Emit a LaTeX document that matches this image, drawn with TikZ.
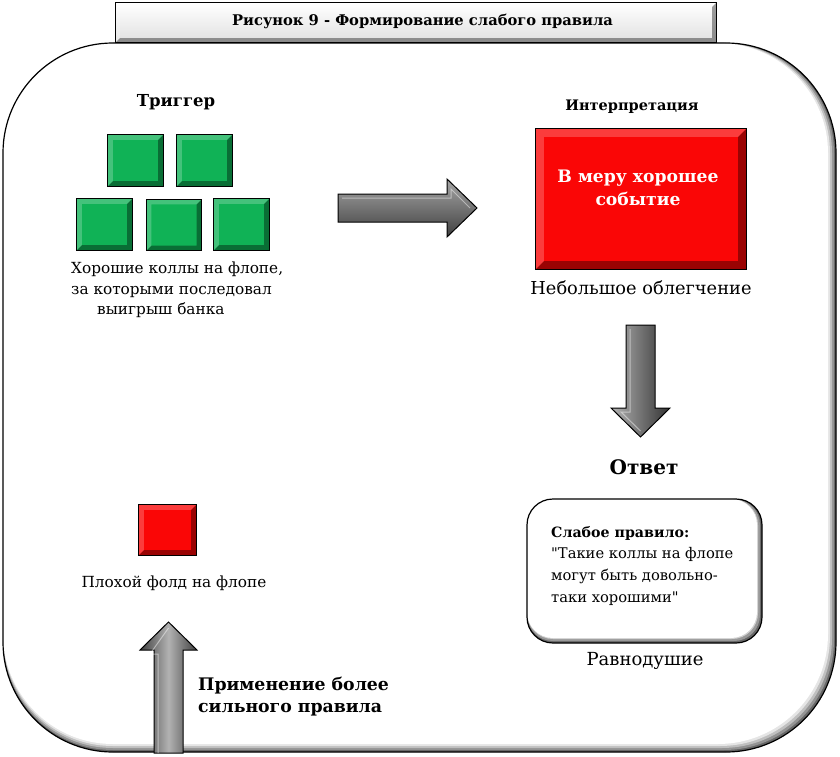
\documentclass[tikz,border=0pt]{standalone}
\usepackage{fontspec}
\setmainfont{DejaVu Serif}
\usepackage{tikz}

\definecolor{cardgreen}{RGB}{16,178,86}
\definecolor{cardred}{RGB}{250,6,6}

% straight double quote, kept out of the TeX mapping
\newcommand\sq{\XeTeXglyph\XeTeXcharglyph"22\relax}

% bevel edges of a card
\newcommand\bevel[2]{%
\fill[white,opacity=.22] (#1.south west) -- (#1.north west) -- (#1.north east) -- ([shift={(-#2,#2)}]#1.north east) -- ([shift={(#2,#2)}]#1.north west) -- ([shift={(#2,-#2)}]#1.south west) -- cycle;
\fill[black,opacity=.38] (#1.south west) -- ([shift={(#2,-#2)}]#1.south west) -- ([shift={(-#2,-#2)}]#1.south east) -- ([shift={(-#2,#2)}]#1.north east) -- (#1.north east) -- (#1.south east) -- cycle;
\draw[line width=1pt] (#1.south west) rectangle (#1.north east);
}

\begin{document}
\begin{tikzpicture}[x=1pt,y=-1pt,
  txt/.style={font=\fontsize{15.3}{20.5}\selectfont, align=left, inner sep=0pt},
  bigtxt/.style={font=\fontsize{17.8}{20}\selectfont, inner sep=0pt},
  hd/.style={font=\bfseries\fontsize{16.5}{18}\selectfont, inner sep=0pt},
  card/.style={minimum width=55pt, minimum height=51pt, inner sep=0pt},
]
\useasboundingbox (0,0) rectangle (840,757);

% frame with its shadow
\foreach \d/\c in {0/60,2/42,4/25,6/10,8/0}
  \fill[black!\c, rounded corners=110pt] (3,43) rectangle (836-\d,752-\d);
\draw[line width=1.2pt, rounded corners=110pt] (3,43) rectangle (836,752);

% title
\node[top color=white, bottom color=black!12, minimum width=600pt, minimum height=39pt, inner sep=0pt] (titlebox) at (416,22.5) {};
\bevel{titlebox}{4}
\node[font=\bfseries\fontsize{14.7}{15}\selectfont] (title) at (422.5,21) {Рисунок 9 - Формирование слабого правила};

% trigger
\node[hd] (trigger) at (176,102) {Триггер};
\node[card, fill=cardgreen] (g1) at (135.5,160.5) {};
\node[card, fill=cardgreen] (g2) at (204.5,160.5) {};
\node[card, fill=cardgreen] (g3) at (104.5,224.5) {};
\node[card, fill=cardgreen] (g4) at (174,225) {};
\node[card, fill=cardgreen] (g5) at (241.5,224.5) {};
\foreach \g in {g1,g2,g3,g4,g5}
  {\bevel{\g}{5}}
\node[txt, anchor=north west] (goodcalls) at (71,262) {Хорошие коллы на флопе,\\за которыми последовал\\\hspace*{26pt}выигрыш банка};

% arrow to the right
\shade[top color=black!35, bottom color=black!75, draw=black, line width=1pt]
  (338,194) -- (447,194) -- (447,179) -- (477,208) -- (447,237) -- (447,222) -- (338,222) -- cycle;
\draw[white, opacity=.45, line width=1pt] (342,198) -- (451,198) -- (451,189) -- (470,208);

% interpretation
\node[hd, font=\bfseries\fontsize{14.5}{16}\selectfont] (interp) at (632,107) {Интерпретация};
\node[card, fill=cardred, minimum width=210pt, minimum height=140pt] (event) at (641,199) {};
\bevel{event}{8}
\node[font=\bfseries\fontsize{17.2}{23}\selectfont, text=white, align=center, inner sep=0pt] (eventtxt) at (638,187.5) {В меру хорошее\\событие};
\node[bigtxt] (relief) at (641,288) {Небольшое облегчение};

% arrow down
\shade[left color=black!30, right color=black!80, draw=black, line width=1pt]
  (626,325) -- (655,325) -- (655,408) -- (670,408) -- (640.5,437) -- (611,408) -- (626,408) -- cycle;
\draw[white, opacity=.45, line width=1pt] (630,329) -- (630,412) -- (621,412) -- (640.5,431);

% answer
\node[hd, font=\bfseries\fontsize{20}{22}\selectfont] (answer) at (644,467) {Ответ};
\foreach \d/\c in {0/60,2/40,4/18,5/0}
  \fill[black!\c, rounded corners=26pt] (527,499) rectangle (762-\d,643-\d);
\draw[line width=1.2pt, rounded corners=26pt] (527,499) rectangle (762,643);
\node[txt, anchor=north west, font=\fontsize{14.7}{21.7}\selectfont] (weakrule) at (551,526) {\textbf{\fontsize{14.2}{21.7}\selectfont Слабое правило:}\\\sq Такие коллы на флопе\\могут быть довольно-\\таки хорошими\sq};
\node[bigtxt, font=\fontsize{18}{20}\selectfont] (indiff) at (645,661) {Равнодушие};

% bad fold
\node[card, fill=cardred, minimum width=57pt, minimum height=50pt] (badfold) at (167.5,530) {};
\bevel{badfold}{5}
\node[txt] (badtxt) at (174,583) {Плохой фолд на флопе};

% arrow up
\shade[left color=black!75, right color=black!75, middle color=black!30, draw=black, line width=1pt]
  (154,753) -- (154,650) -- (140,650) -- (168.5,622) -- (197,650) -- (183,650) -- (183,753) -- cycle;
\draw[white, opacity=.45, line width=1pt] (158,753) -- (158,654) -- (150,654) -- (168.5,628);
\node[hd, font=\bfseries\fontsize{17.3}{22}\selectfont, align=left, anchor=west] (stronger) at (198,697) {Применение более\\сильного правила};
\end{tikzpicture}
\end{document}
